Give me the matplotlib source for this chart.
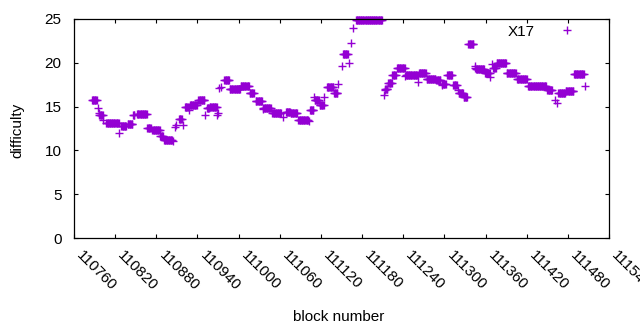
import numpy as np
import matplotlib
matplotlib.use("Agg")
import matplotlib.pyplot as plt

plt.rcParams['font.family'] = ['Liberation Sans', 'DejaVu Sans']

# Data encoded as runs of constant difficulty: start block, run length, value
run_start = [110786, 110795, 110796, 110797, 110803, 110807, 110826, 110829, 110838, 110846,
             110852, 110867, 110874, 110886, 110891, 110905, 110907, 110908, 110913, 110919,
             110922, 110928, 110929, 110941, 110951, 110954, 110958, 110969, 110970, 110971,
             110975, 110979, 110987, 111003, 111016, 111025, 111035, 111036, 111049, 111065,
             111069, 111076, 111087, 111102, 111104, 111110, 111111, 111118, 111125, 111129,
             111139, 111145, 111150, 111152, 111161, 111164, 111167, 111171, 111212, 111213,
             111214, 111218, 111224, 111231, 111243, 111244, 111262, 111263, 111274, 111288,
             111296, 111297, 111304, 111313, 111320, 111321, 111328, 111335, 111344, 111345,
             111346, 111359, 111367, 111369, 111371, 111376, 111391, 111406, 111422, 111450,
             111461, 111464, 111466, 111477, 111489, 111505]
run_len = [8, 1, 1, 6, 1, 19, 1, 8, 8, 3,
           15, 6, 12, 5, 13, 1, 1, 1, 5, 1,
           6, 1, 11, 10, 1, 4, 11, 1, 1, 1,
           1, 8, 16, 13, 7, 10, 1, 12, 14, 1,
           7, 10, 15, 1, 6, 1, 7, 7, 1, 10,
           6, 1, 1, 8, 1, 1, 1, 39, 1, 1,
           4, 6, 6, 12, 1, 18, 1, 11, 14, 7,
           1, 6, 8, 6, 1, 7, 6, 8, 1, 1,
           13, 8, 1, 1, 5, 15, 14, 15, 27, 8,
           1, 1, 11, 12, 15, 1]
run_val = [15.8, 14.8, 14.3, 14.0, 13.5, 13.1, 12.0, 12.8, 13.0, 14.0,
           14.1, 12.6, 12.3, 11.6, 11.2, 11.1, 12.7, 12.9, 13.6, 12.9,
           14.9, 14.6, 15.2, 15.8, 14.0, 14.8, 15.0, 14.0, 14.3, 17.1,
           17.2, 18.0, 17.0, 17.4, 16.5, 15.6, 14.7, 14.8, 14.3, 13.8,
           14.4, 14.3, 13.5, 13.4, 14.6, 16.1, 15.7, 15.2, 16.1, 17.2,
           16.5, 17.6, 19.6, 21.0, 20.0, 22.3, 24.0, 24.9, 16.3, 16.9,
           17.0, 17.7, 18.6, 19.4, 18.5, 18.6, 17.8, 18.8, 18.2, 18.0,
           17.5, 17.6, 18.6, 17.5, 16.9, 16.5, 16.1, 22.1, 19.4, 19.6,
           19.3, 18.8, 18.4, 19.9, 19.4, 20.0, 18.8, 18.2, 17.4, 16.9,
           15.8, 15.4, 16.5, 16.8, 18.7, 17.3]

x_ticks = list(range(110760, 111541, 60))
y_ticks = [0, 5, 10, 15, 20, 25]

blocks = np.concatenate([np.arange(s, s + n) for s, n in zip(run_start, run_len)])
diff = np.repeat(run_val, run_len)

fig = plt.figure(figsize=(6.4, 3.3), dpi=100)
ax = fig.add_axes([74/640, 1 - 238/330, (609 - 74)/640, (238 - 19)/330])
color = '#9400D3'
ax.plot(blocks, diff, linestyle='none', marker='+', markersize=5.5,
        markeredgewidth=1.0, color=color, label='X17', clip_on=False)

ax.set_xlim(110760, 111540)
ax.set_ylim(0, 25)
ax.set_xticks(x_ticks)
ax.set_xticklabels([str(t) for t in x_ticks], rotation=-45, ha='left', va='bottom',
                   rotation_mode='anchor')
ax.set_yticks(y_ticks)
ax.tick_params(direction='in', top=True, right=True, length=3.2, width=0.8,
               labelsize=11, colors='black')
ax.tick_params(axis='x', pad=14.5)
ax.tick_params(axis='y', pad=9)
for s in ax.spines.values():
    s.set_linewidth(0.9)

ax.set_xlabel('block number', fontsize=11)
ax.xaxis.set_label_coords(0.495, -0.33)
ax.set_ylabel('difficulty', fontsize=11)
ax.yaxis.set_label_coords(-0.093, 0.49)

leg = ax.legend(loc='upper right', bbox_to_anchor=(0.985, 1.023), frameon=False,
                markerfirst=False, fontsize=11, handlelength=3.0,
                handletextpad=0.67, borderaxespad=0.3)

fig.savefig('out.png', dpi=100)
